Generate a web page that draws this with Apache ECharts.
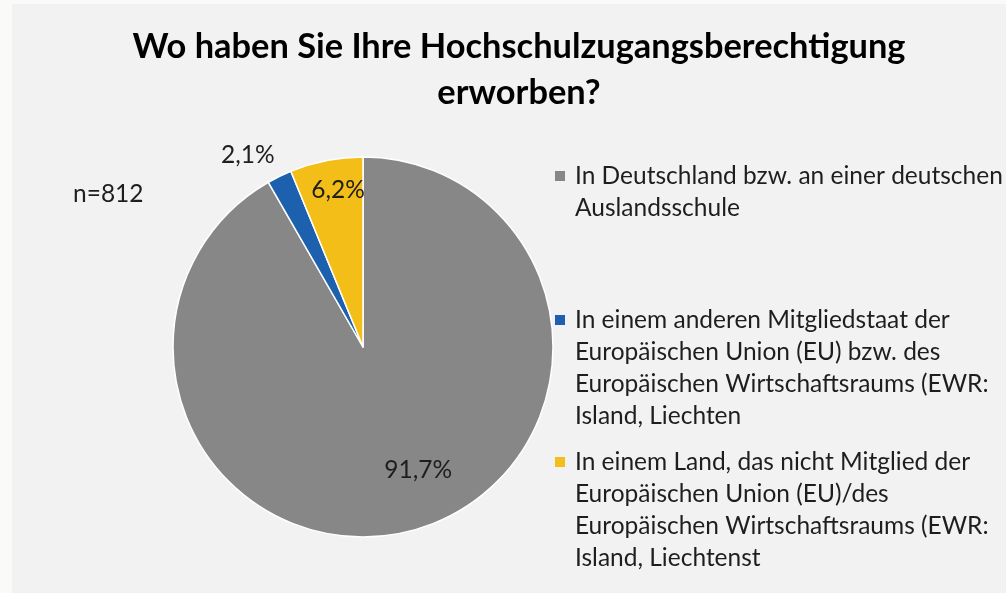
<!DOCTYPE html>
<html>
<head>
<meta charset="utf-8">
<script src="https://cdn.jsdelivr.net/npm/echarts@6/dist/echarts.min.js"></script>
<style>
html,body{margin:0;padding:0;background:#fafaf8;}
#main{width:1006px;height:593px;}
</style>
</head>
<body>
<div id="main"></div>
<script>
// Daten
var categories = [
	'In Deutschland bzw. an einer deutschen Auslandsschule',
	'In einem anderen Mitgliedstaat der Europäischen Union (EU) bzw. des Europäischen Wirtschaftsraums (EWR: Island, Liechten',
	'In einem Land, das nicht Mitglied der Europäischen Union (EU)/des Europäischen Wirtschaftsraums (EWR: Island, Liechtenst'
];
var legendLines = [
	['In Deutschland bzw. an einer deutschen', 'Auslandsschule'],
	['In einem anderen Mitgliedstaat der', 'Europäischen Union (EU) bzw. des', 'Europäischen Wirtschaftsraums (EWR:', 'Island, Liechten'],
	['In einem Land, das nicht Mitglied der', 'Europäischen Union (EU)/des', 'Europäischen Wirtschaftsraums (EWR:', 'Island, Liechtenst']
];
var shares = [91.7, 2.1, 6.2];
var sampleSize = 812;

var colors = ['#878787', '#1c60ae', '#f4be19'];
var legendTop = [160, 304, 446];
var labelShift = [{dx: 30, dy: 28}, {dx: -72, dy: -104}, {dx: -6, dy: -61}];
var font = 'Lato';
var fs = 24.5;
var lh = 32;

var myChart = echarts.init(document.getElementById('main'));

// Legende: Marker an der ersten Zeile, Folgezeilen eingerückt
var legends = [];
for (var i = 0; i < categories.length; i++) {
	(function(i){
		var rich = {
			m: {width: 10, height: 10, backgroundColor: colors[i]},
			g: {width: 10},
			p: {width: 20},
			t: {fontFamily: font, fontSize: fs, lineHeight: lh, color: '#1e1e1e'}
		};
		legends.push({
			data: [categories[i]],
			orient: 'vertical',
			left: 549,
			top: legendTop[i],
			padding: 0,
			itemWidth: 0,
			itemHeight: 0,
			formatter: function(){
				var s = '';
				for (var k = 0; k < legendLines[i].length; k++) {
					s += (k === 0 ? '{m|}{g|}' : '\n{p|}') + '{t|' + legendLines[i][k] + '}';
				}
				return s;
			},
			textStyle: {lineHeight: lh, rich: rich}
		});
	})(i);
}

var pieData = [];
for (var j = 0; j < categories.length; j++) {
	pieData.push({name: categories[j], value: shares[j]});
}

var option = {
	backgroundColor: '#fafaf8',
	color: colors,
	animation: false,
	title: {
		text: 'Wo haben Sie Ihre Hochschulzugangsberechtigung\nerworben?',
		left: 519,
		top: 24,
		padding: 0,
		textAlign: 'center',
		textStyle: {
			fontFamily: font,
			fontSize: 34.4,
			fontWeight: 'bold',
			lineHeight: 46,
			color: '#000'
		}
	},
	graphic: [
		{type: 'rect', z: -10, shape: {x: 12, y: 4, width: 994, height: 589}, style: {fill: '#f2f2f2'}},
		{type: 'text', left: 73, top: 182, style: {text: 'n=' + sampleSize, fontFamily: font, fontSize: fs, fill: '#1e1e1e'}}
	],
	legend: legends,
	series: [{
		type: 'pie',
		center: [363, 347],
		radius: 190,
		startAngle: 90,
		clockwise: true,
		data: pieData,
		itemStyle: {borderColor: '#ffffff', borderWidth: 1.5},
		label: {
			show: true,
			position: 'inside',
			fontFamily: font,
			fontSize: fs,
			color: '#1e1e1e',
			formatter: function(p){ return p.value.toFixed(1).replace('.', ',') + '%'; }
		},
		labelLine: {show: false},
		labelLayout: function(p){ return labelShift[p.dataIndex]; },
		emphasis: {scale: false}
	}]
};
myChart.setOption(option);
</script>
</body>
</html>
